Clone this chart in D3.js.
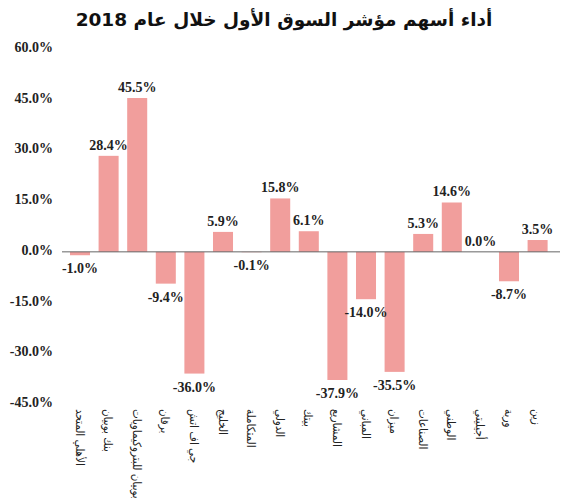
<!DOCTYPE html>
<html lang="ar">
<head>
<meta charset="UTF-8">
<title>أداء أسهم مؤشر السوق الأول</title>
<script src="https://d3js.org/d3.v7.min.js"></script>
<style>
  body { margin: 0; background: #fff; }
  .tick-label { font-family: "Liberation Serif", serif; font-weight: bold; font-size: 14px; fill: #222; }
  .val { font-family: "Liberation Serif", serif; font-weight: bold; font-size: 14px; fill: #222; }
  .cat { font-family: "DejaVu Sans Condensed", "DejaVu Sans", sans-serif; font-size: 11.5px; fill: #222; }
  .title { font-family: "DejaVu Sans", sans-serif; font-weight: bold; font-size: 18.5px; fill: #111; }
</style>
</head>
<body>
<svg width="570" height="500" id="chart"></svg>
<script>
// categories (left to right) and yearly change in %
var companies = ["الأهلي المتحد", "بنك بوبيان", "بوبيان للبتروكيماويات", "برقان", "جي اف اتش",
  "الخليج", "المتكاملة", "الدولي", "بيتك", "المشاريع", "المباني", "ميزان",
  "الصناعات", "الوطني", "أجيليتي", "وربة", "زين"];
var change = [-1.0, 28.4, 45.5, -9.4, -36.0, 5.9, -0.1, 15.8, 6.1, -37.9, -14.0, -35.5,
  5.3, 14.6, 0.0, -8.7, 3.5];
var yTicks = [60, 45, 30, 15, 0, -15, -30, -45];

var svg = d3.select("#chart");

var x = d3.scaleBand()
  .domain(companies)
  .range([65.7, 551.9])
  .paddingInner(0.3)
  .paddingOuter(0.15);

var y = d3.scaleLinear().domain([-45, 60]).range([404, 49]);

// title
svg.append("text")
  .attr("class", "title")
  .attr("x", 284)
  .attr("y", 26)
  .attr("text-anchor", "middle")
  .text("أداء أسهم مؤشر السوق الأول خلال عام 2018");

// y tick labels (no axis line)
svg.append("g").selectAll("text")
  .data(yTicks)
  .join("text")
  .attr("class", "tick-label")
  .attr("x", 53)
  .attr("y", function (d) { return y(d) + 3; })
  .attr("text-anchor", "end")
  .text(function (d) { return d.toFixed(1) + "%"; });

// bars
svg.append("g").selectAll("rect")
  .data(change)
  .join("rect")
  .attr("x", function (d, i) { return x(companies[i]); })
  .attr("width", x.bandwidth())
  .attr("y", function (d) { return y(Math.max(0, d)); })
  .attr("height", function (d) { return Math.abs(y(d) - y(0)); })
  .attr("fill", "#f19e9c");

// zero line
svg.append("line")
  .attr("x1", 62).attr("x2", 560)
  .attr("y1", y(0)).attr("y2", y(0))
  .attr("stroke", "#666")
  .attr("stroke-width", 1);

// value labels
svg.append("g").selectAll("text")
  .data(change)
  .join("text")
  .attr("class", "val")
  .attr("x", function (d, i) { return x(companies[i]) + x.bandwidth() / 2; })
  .attr("y", function (d) { return d < 0 ? y(d) + 18 : y(d) - 6; })
  .attr("text-anchor", "middle")
  .text(function (d) { return d.toFixed(1) + "%"; });

// category labels, rotated
svg.append("g").selectAll("text")
  .data(companies)
  .join("text")
  .attr("class", "cat")
  .attr("transform", function (d) {
    return "translate(" + (x(d) + x.bandwidth() / 2 - 4.5) + ",409) rotate(90)";
  })
  .attr("text-anchor", "start")
  .text(function (d) { return d; });
</script>
</body>
</html>
